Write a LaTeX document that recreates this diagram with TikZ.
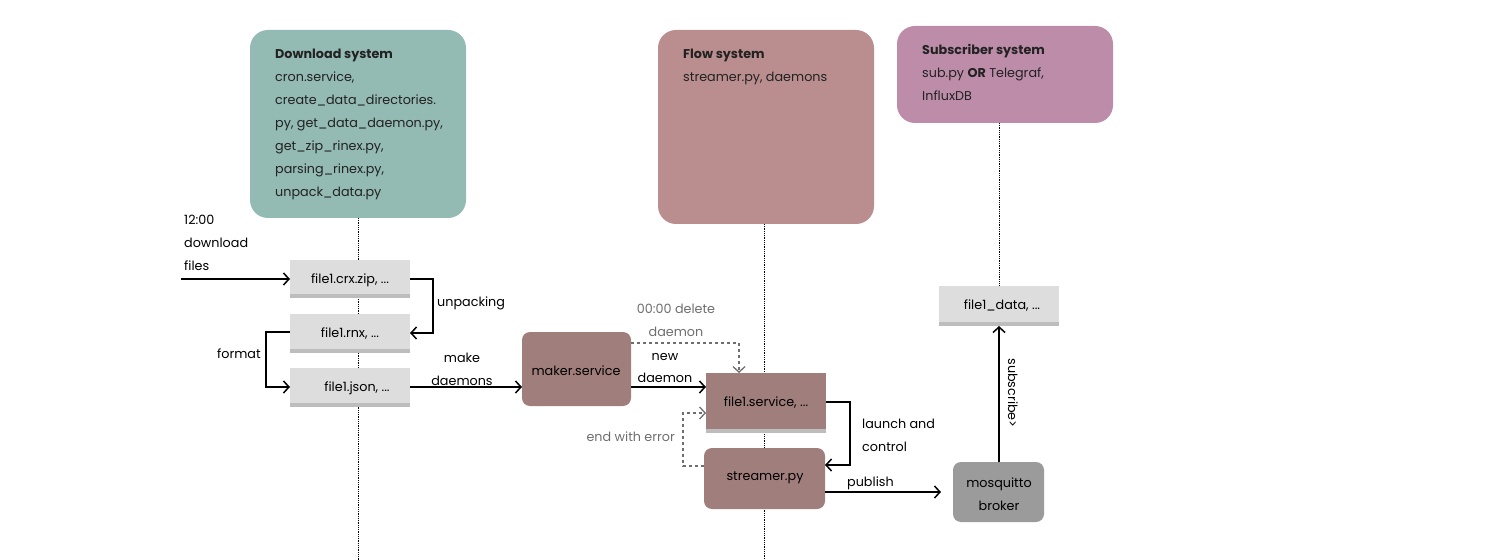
\documentclass[tikz,border=0pt]{standalone}
\usepackage{fontspec}
\setmainfont{Poppins}
\usetikzlibrary{arrows.meta,positioning}
\definecolor{dlc}{HTML}{93BAB3}
\definecolor{flc}{HTML}{BA8E8E}
\definecolor{sbc}{HTML}{BC8CA9}
\definecolor{filec}{HTML}{DDDDDD}
\definecolor{stripc}{HTML}{BDBDBD}
\definecolor{procc}{HTML}{A07E7B}
\definecolor{brokc}{HTML}{9B9B9B}
\definecolor{txt}{HTML}{222222}
\definecolor{graytxt}{HTML}{6E6E6E}
\begin{document}
\begin{tikzpicture}[x=1bp,y=-1bp,
  font=\fontsize{12.8}{23}\selectfont,
  sysbox/.style={fill=#1,draw=none,rounded corners=18bp},
  lifeline/.style={densely dotted,line width=0.8bp,black},
  filebox/.style={fill=filec,draw=none},
  strip/.style={fill=stripc,draw=none},
  procbox/.style={fill=procc,draw=none,rounded corners=8bp},
  conn/.style={line width=1.5bp,-{Straight Barb[length=5.5bp,width=12bp]}},
  dconn/.style={line width=1.3bp,graytxt,dash pattern=on 3bp off 3bp,-{Straight Barb[length=5.5bp,width=12bp]}},
  lbl/.style={text=black,align=center,inner sep=0},
  glbl/.style={text=graytxt,align=center,inner sep=0},
]
\useasboundingbox (0,0) rectangle (1492,560);
% system boxes
\fill[sysbox=dlc] (250,30) rectangle (466,218);
\node[anchor=north west,align=left,inner sep=0,text=txt] (dl) at (275,49)
  {\textbf{Download system}\\cron.service,\\create\_data\_directories.\\py, get\_data\_daemon.py,\\get\_zip\_rinex.py,\\parsing\_rinex.py,\\unpack\_data.py};
\fill[sysbox=flc] (658,30) rectangle (874,224);
\node[anchor=north west,align=left,inner sep=0,text=txt] (fl) at (683,49)
  {\textbf{Flow system}\\streamer.py, daemons};
\fill[sysbox=sbc] (897,26) rectangle (1113,123);
\node[anchor=north west,align=left,inner sep=0,text=txt] (sb) at (922,44)
  {\textbf{Subscriber system}\\sub.py \textbf{OR} Telegraf,\\InfluxDB};
% lifelines
\coordinate (l1a) at (358,218); \coordinate (l1b) at (358,560);
\coordinate (l2a) at (764,224); \coordinate (l2b) at (764,560);
\coordinate (l3a) at (999,123); \coordinate (l3b) at (999,286);
\draw[lifeline] (l1a) -- (l1b);
\draw[lifeline] (l2a) -- (l2b);
\draw[lifeline] (l3a) -- (l3b);
% file boxes
\fill[filebox] (290,260) rectangle (410,298); \fill[strip] (290,294) rectangle (410,298);
\node[lbl] (zip) at (350,280) {file1.crx.zip, ...};
\fill[filebox] (290,314) rectangle (410,353); \fill[strip] (290,349) rectangle (410,353);
\node[lbl] (rnx) at (350,334) {file1.rnx, ...};
\fill[filebox] (290,368) rectangle (410,407); \fill[strip] (290,403) rectangle (410,407);
\node[lbl] (json) at (357,388) {file1.json, ...};
\fill[filebox] (939,286) rectangle (1059,326); \fill[strip] (939,322) rectangle (1059,326);
\node[lbl] (data) at (1002,306) {file1\_data, ...};
% process boxes
\fill[procbox] (522,332) rectangle (631,406);
\node[lbl] (maker) at (576,371) {maker.service};
\fill[fill=procc] (706,373) rectangle (826,433); \fill[strip] (706,429) rectangle (826,433);
\node[lbl] (svc) at (766,403) {file1.service, ...};
\fill[procbox] (704,448) rectangle (825,509);
\node[lbl] (str) at (765,478) {streamer.py};
\fill[procbox,fill=brokc] (953,462) rectangle (1044,522);
\node[lbl] (brk) at (999,494) {mosquitto\\broker};
% coordinates for connectors
\coordinate (in0) at (181,279); \coordinate (zipL) at (290,279);
\coordinate (zipR) at (410,279); \coordinate (rnxR) at (410,333);
\coordinate (rnxL) at (290,332); \coordinate (jsonL) at (290,387);
\coordinate (jsonR) at (410,387); \coordinate (makL) at (522,387);
\coordinate (makR) at (631,387); \coordinate (svcL) at (706,387);
\coordinate (makT) at (631,343); \coordinate (svcT) at (739,373);
\coordinate (strL) at (704,466); \coordinate (svcL2) at (706,413);
\coordinate (svcR) at (826,402); \coordinate (strR) at (825,465);
\coordinate (strR2) at (825,492); \coordinate (brkL) at (941,492);
\coordinate (brkT) at (999,462); \coordinate (dataB) at (999,326);
% connectors
\draw[conn] (in0) -- (zipL);
\node[lbl,align=left,anchor=north west] (t12) at (184,215) {12:00\\download\\files};
\draw[conn] (zipR) -- (433,279) |- (rnxR);
\node[lbl,anchor=west] (unp) at (437,303) {unpacking};
\draw[conn] (rnxL) -- (266,332) |- (jsonL);
\node[lbl] (fmt) at (239,354) {format};
\draw[conn] (jsonR) -- (makL);
\node[lbl] (mk) at (462,369) {make\\daemons};
\draw[conn] (makR) -- (svcL);
\node[lbl] (nd) at (665,368) {new\\daemon};
\draw[dconn] (makT) -| (svcT);
\node[glbl] (del) at (676,320) {00:00 delete\\daemon};
\draw[dconn] (strL) -- (683,466) |- (svcL2);
\node[glbl,anchor=east] (err) at (675,437) {end with error};
\draw[conn] (svcR) -- (850,402) |- (strR);
\node[lbl,align=left,anchor=north west] (lc) at (862,419) {launch and\\control};
\draw[conn] (strR2) -- (brkL);
\node[lbl,anchor=west] (pub) at (847,483) {publish};
\draw[conn] (brkT) -- (dataB);
\node[lbl,rotate=-90] (sub) at (1013,393) {subscribe>};
\end{tikzpicture}
\end{document}
